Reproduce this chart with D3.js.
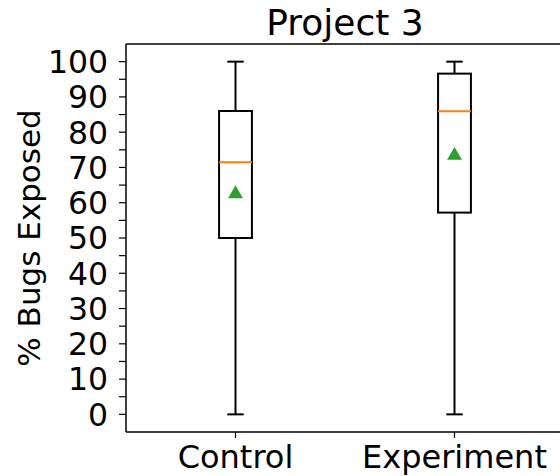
<!DOCTYPE html>
<html lang="en">
<head>
    <meta charset="UTF-8">
    <title>Project 3</title>
    <script src="https://d3js.org/d3.v7.min.js"></script>
    <style>
        body { margin: 0; background: #fff; overflow: hidden; }
        svg { display: block; }
        text { font-family: "DejaVu Sans", sans-serif; fill: #000; }
    </style>
</head>
<body>
    <div id="chart"></div>
    <script>
        // Data
        const categories = ["Control", "Experiment"];
        const whiskerLow = [0, 0];
        const q1 = [50, 57.2];
        const median = [71.5, 85.9];
        const q3 = [86, 96.6];
        const whiskerHigh = [100, 100];
        const means = [62.5, 73.4];
        const yTicks = d3.range(0, 101, 5);

        const width = 560, height = 476;
        const plot = {left: 126, right: 564, top: 44, bottom: 432};

        const svg = d3.select("#chart").append("svg")
            .attr("width", width)
            .attr("height", height);

        const x = d3.scaleLinear().domain([0.5, 2.5]).range([plot.left, plot.right]);
        const y = d3.scaleLinear().domain([-5, 105]).range([plot.bottom, plot.top]);

        const boxW = x(1.15) - x(1);   // matplotlib default widths 0.15
        const capW = boxW / 2;

        // Axes spines; the right one falls outside the picture
        const spine = (x1, y1, x2, y2) => svg.append("line")
            .attr("x1", x1).attr("y1", y1).attr("x2", x2).attr("y2", y2)
            .attr("stroke", "#000").attr("stroke-width", 1.5);
        spine(plot.left, plot.top, plot.left, plot.bottom);
        spine(plot.left, plot.top, width, plot.top);
        spine(plot.left, plot.bottom, width, plot.bottom);

        // Y axis ticks (every 5) and labels (every 10)
        svg.selectAll(".ytick").data(yTicks).enter().append("line")
            .attr("x1", plot.left - 7).attr("x2", plot.left)
            .attr("y1", d => y(d)).attr("y2", d => y(d))
            .attr("stroke", "#000").attr("stroke-width", 1.2);

        svg.selectAll(".ylab").data(yTicks.filter(d => d % 10 === 0)).enter().append("text")
            .attr("x", plot.left - 18).attr("y", d => y(d))
            .attr("dy", "0.36em")
            .attr("text-anchor", "end")
            .style("font-size", "31.5px")
            .text(d => d);

        // X ticks and labels
        const xs = categories.map((c, i) => ({c, i, pos: i + 1}));
        svg.selectAll(".xtick").data(xs).enter().append("line")
            .attr("x1", d => x(d.pos)).attr("x2", d => x(d.pos))
            .attr("y1", plot.bottom).attr("y2", plot.bottom + 6)
            .attr("stroke", "#000").attr("stroke-width", 1.2);

        svg.selectAll(".xlab").data(xs).enter().append("text")
            .attr("x", d => x(d.pos)).attr("y", 468)
            .attr("text-anchor", "middle")
            .style("font-size", "32px")
            .text(d => d.c);

        // Boxes
        const g = svg.selectAll(".box").data(xs).enter().append("g");

        g.append("line")
            .attr("x1", d => x(d.pos)).attr("x2", d => x(d.pos))
            .attr("y1", d => y(whiskerLow[d.i])).attr("y2", d => y(q1[d.i]))
            .attr("stroke", "#000").attr("stroke-width", 2);
        g.append("line")
            .attr("x1", d => x(d.pos)).attr("x2", d => x(d.pos))
            .attr("y1", d => y(q3[d.i])).attr("y2", d => y(whiskerHigh[d.i]))
            .attr("stroke", "#000").attr("stroke-width", 2);
        g.append("line")
            .attr("x1", d => x(d.pos) - capW / 2).attr("x2", d => x(d.pos) + capW / 2)
            .attr("y1", d => y(whiskerLow[d.i])).attr("y2", d => y(whiskerLow[d.i]))
            .attr("stroke", "#000").attr("stroke-width", 2);
        g.append("line")
            .attr("x1", d => x(d.pos) - capW / 2).attr("x2", d => x(d.pos) + capW / 2)
            .attr("y1", d => y(whiskerHigh[d.i])).attr("y2", d => y(whiskerHigh[d.i]))
            .attr("stroke", "#000").attr("stroke-width", 2);
        g.append("rect")
            .attr("x", d => x(d.pos) - boxW / 2)
            .attr("y", d => y(q3[d.i]))
            .attr("width", boxW)
            .attr("height", d => y(q1[d.i]) - y(q3[d.i]))
            .attr("fill", "none").attr("stroke", "#000").attr("stroke-width", 2);
        g.append("line")
            .attr("x1", d => x(d.pos) - boxW / 2).attr("x2", d => x(d.pos) + boxW / 2)
            .attr("y1", d => y(median[d.i])).attr("y2", d => y(median[d.i]))
            .attr("stroke", "#ff7f0e").attr("stroke-width", 2);

        // Mean markers
        const tri = d3.symbol().type(d3.symbolTriangle).size(95);
        g.append("path")
            .attr("d", tri)
            .attr("transform", d => `translate(${x(d.pos)},${y(means[d.i])})`)
            .attr("fill", "#2ca02c");

        // Title and y label
        svg.append("text")
            .attr("x", (plot.left + plot.right) / 2).attr("y", 35)
            .attr("text-anchor", "middle")
            .style("font-size", "36px")
            .text("Project 3");

        svg.append("text")
            .attr("transform", `translate(40,${(plot.top + plot.bottom) / 2}) rotate(-90)`)
            .attr("text-anchor", "middle")
            .style("font-size", "31px")
            .text("% Bugs Exposed");
    </script>
</body>
</html>
